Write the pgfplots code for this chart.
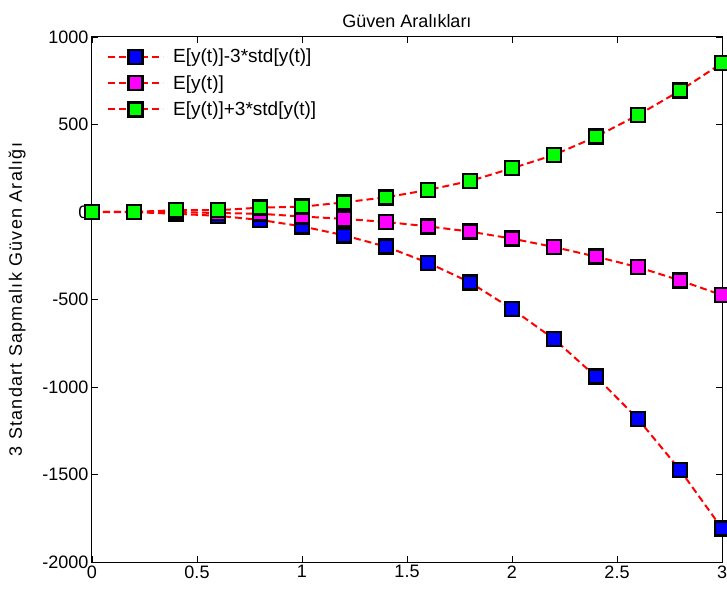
\documentclass[border=0pt]{standalone}
\usepackage{fontspec}
\setmainfont{Liberation Sans}
\usepackage{pgfplots}
\usepackage{pgfplotstable}
\pgfplotsset{compat=1.18}

\definecolor{lowfill}{RGB}{0,0,255}
\definecolor{meanfill}{RGB}{255,0,255}
\definecolor{highfill}{RGB}{0,255,0}

% mean and 3-sigma band of y(t)
\pgfplotstableread{
t    lo     mu     hi
0.0  0      0      0
0.2  -1     0      1
0.4  -10    0      10
0.6  -22    -6     10
0.8  -45    -10    25
1.0  -82    -26    30
1.2  -133   -39    55
1.4  -198   -57    84
1.6  -290   -82    126
1.8  -402   -112   177
2.0  -554   -152   250
2.2  -726   -200   326
2.4  -941   -255   430
2.6  -1183  -315   554
2.8  -1474  -391   693
3.0  -1808  -475   851
}\bands

\newcommand\chartfont{\fontsize{18}{21}\selectfont}

\pgfplotsset{
  band/.style={
    color=red, solid, line width=2pt, dash pattern=on 7pt off 4pt,
    mark=square*, mark size=7pt,
    mark options={solid, draw=black, line width=2.5pt, fill=#1},
    legend image code/.code={%
      \draw[mark repeat=2, mark phase=2, ##1]
        plot coordinates {(0pt,0pt) (27.5pt,0pt) (55pt,0pt)};},
  },
}

\begin{document}
\begin{tikzpicture}
\begin{axis}[
  name=ax,
  scale only axis,
  width=630pt, height=525pt,
  xmin=0, xmax=3, ymin=-2000, ymax=1000,
  xtick={0,0.5,...,3},
  ytick={-2000,-1500,...,1000},
  tick align=inside,
  major tick length=6pt,
  axis line style={line width=1pt},
  every tick/.style={black, line width=0.8pt},
  /pgf/number format/assume math mode=true,
  /pgf/number format/1000 sep={},
  tick label style={font=\chartfont},
  label style={font=\chartfont},
  ylabel style={yshift=10pt, font=\chartfont\addfontfeature{LetterSpace=7}},
  title style={font=\chartfont},
  title={Güven Aralıkları},
  ylabel={3 Standart Sapmalık Güven Aralığı},
  legend cell align=left,
  legend style={
    at={(axis description cs:0,1)}, anchor=north west,
    xshift=12pt, yshift=-8pt,
    draw=none, fill=none,
    font=\fontsize{19}{22}\selectfont, row sep=7pt,
    /tikz/column 1/.style={column sep=7pt},
  },
]
\addplot[band=lowfill] table[x=t, y=lo] {\bands};
\addlegendentry{E[y(t)]-3*std[y(t)]}
\addplot[band=meanfill] table[x=t, y=mu] {\bands};
\addlegendentry{E[y(t)]}
\addplot[band=highfill] table[x=t, y=hi] {\bands};
\addlegendentry{E[y(t)]+3*std[y(t)]}
\end{axis}
\pgfresetboundingbox
\path ([shift={(-92pt,-30pt)}]ax.south west) rectangle ([shift={(5pt,37pt)}]ax.north east);
\end{tikzpicture}
\end{document}
